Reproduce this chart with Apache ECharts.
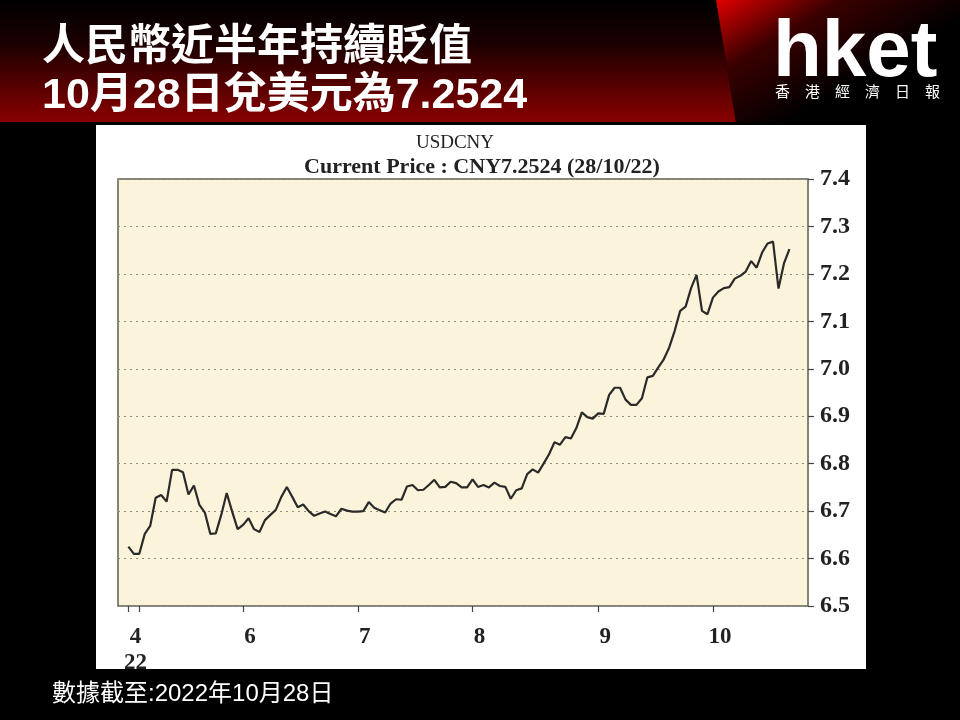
<!DOCTYPE html>
<html><head><meta charset="utf-8">
<script src="https://cdn.jsdelivr.net/npm/echarts@6/dist/echarts.min.js"></script>
<style>html,body{margin:0;padding:0;background:#000;}#c{width:960px;height:720px;}</style>
</head><body><div id="c"></div>
<script>
// Trading days (USDCNY onshore), 28 Apr 2022 - 28 Oct 2022
const dates = [
'2022-04-28','2022-04-29',
'2022-05-05','2022-05-06','2022-05-09','2022-05-10','2022-05-11','2022-05-12','2022-05-13','2022-05-16','2022-05-17','2022-05-18','2022-05-19','2022-05-20','2022-05-23','2022-05-24','2022-05-25','2022-05-26','2022-05-27','2022-05-30','2022-05-31',
'2022-06-01','2022-06-02','2022-06-06','2022-06-07','2022-06-08','2022-06-09','2022-06-10','2022-06-13','2022-06-14','2022-06-15','2022-06-16','2022-06-17','2022-06-20','2022-06-21','2022-06-22','2022-06-23','2022-06-24','2022-06-27','2022-06-28','2022-06-29','2022-06-30',
'2022-07-01','2022-07-04','2022-07-05','2022-07-06','2022-07-07','2022-07-08','2022-07-11','2022-07-12','2022-07-13','2022-07-14','2022-07-15','2022-07-18','2022-07-19','2022-07-20','2022-07-21','2022-07-22','2022-07-25','2022-07-26','2022-07-27','2022-07-28','2022-07-29',
'2022-08-01','2022-08-02','2022-08-03','2022-08-04','2022-08-05','2022-08-08','2022-08-09','2022-08-10','2022-08-11','2022-08-12','2022-08-15','2022-08-16','2022-08-17','2022-08-18','2022-08-19','2022-08-22','2022-08-23','2022-08-24','2022-08-25','2022-08-26','2022-08-29','2022-08-30','2022-08-31',
'2022-09-01','2022-09-02','2022-09-05','2022-09-06','2022-09-07','2022-09-08','2022-09-09','2022-09-13','2022-09-14','2022-09-15','2022-09-16','2022-09-19','2022-09-20','2022-09-21','2022-09-22','2022-09-23','2022-09-26','2022-09-27','2022-09-28','2022-09-29','2022-09-30',
'2022-10-10','2022-10-11','2022-10-12','2022-10-13','2022-10-14','2022-10-17','2022-10-18','2022-10-19','2022-10-20','2022-10-21','2022-10-24','2022-10-25','2022-10-26','2022-10-27','2022-10-28'
];
const usdcny = [
6.625,6.610,
6.610,6.652,6.669,6.728,6.734,6.720,6.787,6.787,6.782,6.735,6.754,6.713,6.697,6.652,6.653,6.692,6.738,6.699,6.662,
6.671,6.685,6.662,6.656,6.681,6.692,6.703,6.730,6.751,6.730,6.708,6.714,6.700,6.690,6.695,6.699,6.694,6.689,6.705,6.701,6.699,
6.699,6.700,6.719,6.707,6.702,6.697,6.716,6.725,6.724,6.752,6.755,6.744,6.745,6.755,6.766,6.750,6.751,6.762,6.759,6.750,6.750,
6.767,6.751,6.755,6.750,6.760,6.753,6.751,6.726,6.744,6.748,6.778,6.788,6.781,6.800,6.820,6.845,6.840,6.856,6.853,6.875,6.908,6.898,6.895,
6.906,6.905,6.945,6.960,6.960,6.935,6.924,6.924,6.938,6.982,6.985,7.003,7.020,7.045,7.080,7.122,7.131,7.170,7.198,7.122,7.115,
7.150,7.163,7.170,7.172,7.190,7.196,7.205,7.227,7.213,7.245,7.264,7.268,7.169,7.222,7.2524
];
// month tick labels (Bloomberg style: May is unlabeled)
const monthLabels = {4:'4\n22', 5:'', 6:'6', 7:'7', 8:'8', 9:'9', 10:'10'};
const yMin = 6.5, yMax = 7.4, yStep = 0.1;

const titleLines = ['人民幣近半年持續貶值', '10月28日兌美元為7.2524'];
const chartTitle = 'USDCNY';
const chartSubtitle = 'Current Price : CNY7.2524 (28/10/22)';
const footnote = '數據截至:2022年10月28日';

// first trading day of each month -> tick positions
const monthStarts = [];
dates.forEach((d, i) => { if (i === 0 || d.slice(5,7) !== dates[i-1].slice(5,7)) monthStarts.push(i); });
const labelIdx = monthStarts.filter(i => monthLabels[+dates[i].slice(5,7)] !== '');

const chart = echarts.init(document.getElementById('c'), null, {renderer:'canvas'});
const serifF = "'Liberation Serif','Times New Roman',serif";
const cjkF = "'Liberation Sans','Noto Sans CJK TC',sans-serif";

chart.setOption({
  backgroundColor: '#000',
  animation: false,
  graphic: [
    { type:'polygon', z:-10, shape:{points:[[0,0],[716,0],[736,122],[0,122]]},
      style:{fill:new echarts.graphic.LinearGradient(0,0,0,1,[{offset:0,color:'#000'},{offset:0.35,color:'#1a0000'},{offset:1,color:'#8a0000'}])}},
    { type:'polygon', z:-10, shape:{points:[[716,0],[960,0],[960,122],[736,122]]},
      style:{fill:new echarts.graphic.LinearGradient(0,0,0.3,1,[{offset:0,color:'#e00000'},{offset:0.45,color:'#3a0000'},{offset:1,color:'#000'}])}},
    { type:'text', z:5, left:42, top:27, style:{text:titleLines[0], fill:'#fff', font:"bold 43px "+cjkF}},
    { type:'text', z:5, left:42, top:75, style:{text:titleLines[1], fill:'#fff', font:"bold 43px "+cjkF}},
    { type:'text', z:5, left:773, top:14, style:{text:'hket', fill:'#fff', font:"bold 80px 'Liberation Sans',Arial,sans-serif"}},
    { type:'text', z:5, left:775, top:84, style:{text:'香\u2003港\u2003經\u2003濟\u2003日\u2003報', fill:'#fff', font:"15px 'Noto Sans CJK TC',sans-serif"}},
    { type:'rect', z:-5, shape:{x:96,y:125,width:770,height:544}, style:{fill:'#fff'}},
    { type:'text', z:5, x:455, y:143, style:{text:chartTitle, fill:'#222', font:"19px "+serifF, align:'center', verticalAlign:'middle'}},
    { type:'text', z:5, x:482, y:167, style:{text:chartSubtitle, fill:'#222', font:"bold 22px "+serifF, align:'center', verticalAlign:'middle'}},
    { type:'text', z:5, left:52, top:682, style:{text:footnote, fill:'#fff', font:"24px "+cjkF}}
  ],
  grid: { left:118, right:152, top:179, bottom:114, show:true, backgroundColor:'#fcf4da', borderColor:'#5e5e52', borderWidth:1.5 },
  xAxis: {
    type:'value', min:-1.9, max:124.4,
    axisLine:{show:false, onZero:false},
    splitLine:{show:false},
    axisTick:{show:true, customValues:monthStarts, length:6, lineStyle:{color:'#444', width:1.2}},
    axisLabel:{show:true, customValues:labelIdx, margin:18, lineHeight:26, padding:[0,0,0,14],
      color:'#222', fontFamily:serifF, fontWeight:'bold', fontSize:23,
      formatter: v => monthLabels[+dates[Math.round(v)].slice(5,7)] }
  },
  yAxis: {
    type:'value', position:'right', min:yMin, max:yMax, interval:yStep,
    axisLine:{show:false, onZero:false},
    axisTick:{show:true, length:6, lineStyle:{color:'#444', width:1.2}},
    axisLabel:{margin:12, color:'#222', fontFamily:serifF, fontWeight:'bold', fontSize:24, formatter:v=>v.toFixed(1)},
    splitLine:{show:true, lineStyle:{color:'#8f8f80', type:[2,4], width:1}}
  },
  series: [{
    type:'line', data: usdcny.map((v,i)=>[i,v]), showSymbol:false, symbol:'none',
    lineStyle:{color:'#2a2a2a', width:2.2}
  }]
});
</script></body></html>
